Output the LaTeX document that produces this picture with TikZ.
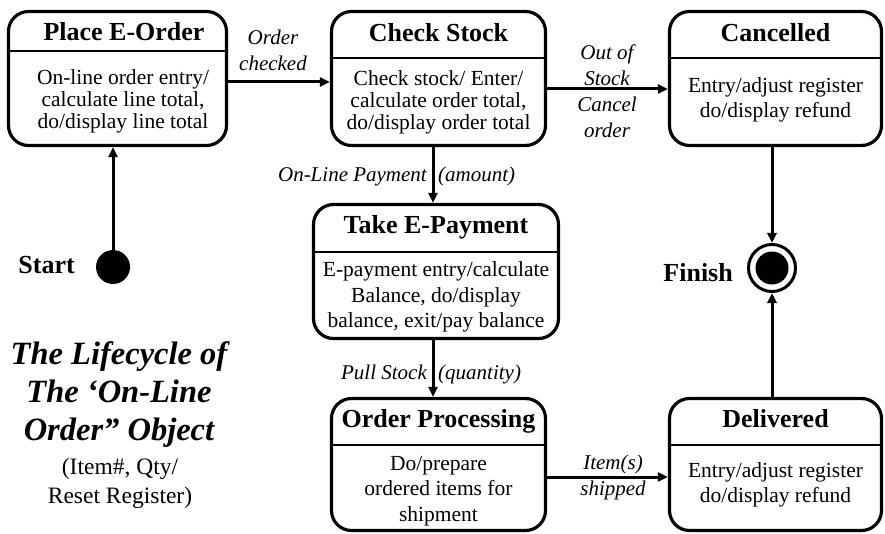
\documentclass[tikz,border=0pt]{standalone}
\usepackage{fontspec}
\setmainfont{Liberation Serif}
\usetikzlibrary{arrows.meta,calc}

\tikzset{
  statebox/.style={draw, line width=3.2pt, rounded corners=20pt, inner sep=0pt},
  divider/.style={line width=2.7pt},
  arr/.style={line width=3pt, -{Triangle[length=10pt,width=9pt]}},
  ttl/.style={font=\fontsize{26}{28}\selectfont\bfseries, inner sep=0pt},
  body/.style={font=\fontsize{21.5}{22}\selectfont, align=center, inner sep=0pt},
  bodyw/.style={font=\fontsize{21.5}{25.5}\selectfont, align=center, inner sep=0pt},
  lbl/.style={font=\fontsize{21}{26}\selectfont\itshape, align=center, inner sep=0pt},
}

\begin{document}
\begin{tikzpicture}[x=1pt, y=-1pt]
\useasboundingbox (0,0) rectangle (885,534);

% ---- state boxes ----
\node[statebox, minimum width=218pt, minimum height=134pt] (place) at (117.5,78.5) {};
\node[statebox, minimum width=214pt, minimum height=134pt] (check) at (438.5,78.5) {};
\node[statebox, minimum width=212pt, minimum height=134pt] (cancel) at (775.5,78.5) {};
\node[statebox, minimum width=245pt, minimum height=134pt] (pay) at (436,271.5) {};
\node[statebox, minimum width=214pt, minimum height=132pt] (proc) at (438.5,464.5) {};
\node[statebox, minimum width=212pt, minimum height=132pt] (deliv) at (775.5,464.5) {};

% ---- compartment dividers ----
\draw[divider] (place.west |- 0,51) -- (place.east |- 0,51);
\draw[divider] (check.west |- 0,58) -- (check.east |- 0,58);
\draw[divider] (cancel.west |- 0,58) -- (cancel.east |- 0,58);
\draw[divider] (pay.west |- 0,252) -- (pay.east |- 0,252);
\draw[divider] (proc.west |- 0,445) -- (proc.east |- 0,445);
\draw[divider] (deliv.west |- 0,445) -- (deliv.east |- 0,445);

% ---- state names (placed on their baselines) ----
\node[ttl, anchor=base] (placeT) at (124,41) {Place E-Order};
\node[ttl, anchor=base] (checkT) at (438.5,42) {Check Stock};
\node[ttl, anchor=base] (cancelT) at (775.5,42) {Cancelled};
\node[ttl, anchor=base] (payT) at (436,234) {Take E-Payment};
\node[ttl, anchor=base] (procT) at (438.5,427) {Order Processing};
\node[ttl, anchor=base] (delivT) at (775.5,427) {Delivered};

% ---- state activities ----
\node[body] (placeB) at (123,101) {On-line order entry/\\calculate line total,\\do/display line total};
\node[body] (checkB) at (438.5,102) {Check stock/ Enter/\\calculate order total,\\do/display order total};
\node[bodyw] (cancelB) at (775.5,100) {Entry/adjust register\\do/display refund};
\node[bodyw] (payB) at (436,297) {E-payment entry/calculate\\Balance, do/display\\balance, exit/pay balance};
\node[bodyw] (procB) at (438.5,491) {Do/prepare\\ordered items for\\shipment};
\node[bodyw] (delivB) at (775.5,485) {Entry/adjust register\\do/display refund};

% ---- pseudo states ----
\node[circle, fill, minimum size=34pt, inner sep=0pt] (start) at (113,267) {};
\node[circle, draw, line width=3pt, minimum size=47pt, inner sep=0pt] (finish) at (772,268) {};
\node[circle, fill, minimum size=33pt, inner sep=0pt] (finishdot) at (finish) {};
\node[ttl, anchor=east] (startT) at (75,265) {Start};
\node[ttl, anchor=east] (finishT) at (733,273) {Finish};

% ---- transitions ----
\draw[arr] (start.north) -- (start.north |- place.south);
\draw[arr] ([yshift=-3.5pt]place.east) -- ([yshift=-3.5pt]place.east -| check.west);
\draw[arr] ([yshift=-10.5pt]check.east) -- ([yshift=-10.5pt]check.east -| cancel.west);
\draw[arr] ([xshift=-5.5pt]check.south) -- ([xshift=-5.5pt]check.south |- pay.north);
\draw[arr] ([xshift=-5.5pt]proc.north |- pay.south) -- ([xshift=-5.5pt]proc.north);
\draw[arr] ([yshift=-12.5pt]proc.east) -- ([yshift=-12.5pt]proc.east -| deliv.west);
\draw[arr] (cancel.south -| finish) -- (finish.north);
\draw[arr] (deliv.north -| finish) -- (finish.south);

% ---- transition labels ----
\node[lbl] (l1) at (273,50) {Order\\checked};
\node[lbl] (l2) at (607,91) {Out of\\Stock\\Cancel\\order};
\node[lbl, anchor=base east] (l3a) at (427,182) {On-Line Payment};
\node[lbl, anchor=base west] (l3b) at (438,182) {(amount)};
\node[lbl, anchor=base east] (l4a) at (427,379) {Pull Stock};
\node[lbl, anchor=base west] (l4b) at (438,379) {(quantity)};
\node[lbl] (l5) at (613,477) {Item(s)\\shipped};

% ---- diagram caption ----
\node[font=\fontsize{32.5}{38}\selectfont\bfseries\itshape, align=center, inner sep=0pt] (cap) at (119,395)
  {The Lifecycle of\\The ‘On-Line\\Order” Object};
\node[font=\fontsize{23.5}{29}\selectfont, align=center, inner sep=0pt] (capsub) at (120,483)
  {(Item\#, Qty/\\Reset Register)};
\end{tikzpicture}
\end{document}
